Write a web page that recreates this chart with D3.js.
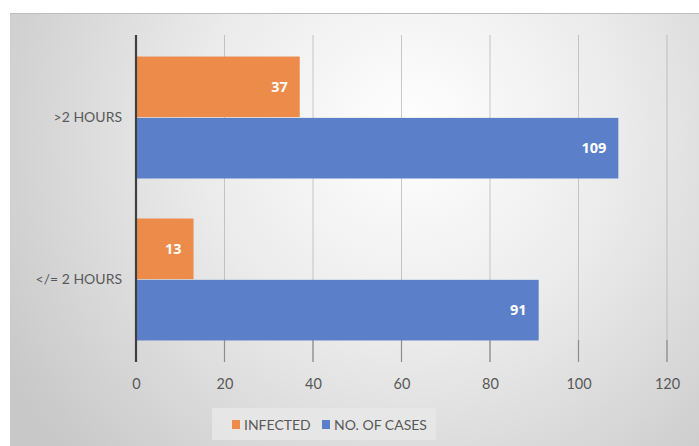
<!DOCTYPE html>
<html>
<head>
<meta charset="utf-8">
<script src="https://cdn.jsdelivr.net/npm/d3@7"></script>
<style>
  html, body { margin: 0; padding: 0; background: #ffffff; }
  svg { display: block; font-family: Lato, "Open Sans", "Liberation Sans", sans-serif; }
</style>
</head>
<body>
<svg id="chart" width="699" height="446"></svg>
<script>
// Duration groups (top to bottom) and the two series drawn per group
const categories = [">2 HOURS", "</= 2 HOURS"];
const seriesNames = ["INFECTED", "NO. OF CASES"];
const infected = [37, 13];
const cases = [109, 91];
const xTicks = [0, 20, 40, 60, 80, 100, 120];
const seriesColors = ["#ED8B4A", "#5B80C9"];

const svg = d3.select("#chart");
const W = 699, H = 446;
const margin = { left: 136, right: 32, top: 35, bottom: 84 };

// Card background with soft radial shading
const defs = svg.append("defs");
const grad = defs.append("radialGradient")
  .attr("id", "bg").attr("gradientUnits", "userSpaceOnUse")
  .attr("cx", 410).attr("cy", 130).attr("r", 470);
grad.append("stop").attr("offset", "0%").attr("stop-color", "#ffffff");
grad.append("stop").attr("offset", "45%").attr("stop-color", "#ebebeb");
grad.append("stop").attr("offset", "100%").attr("stop-color", "#c8c8c8");

svg.append("rect").attr("x", 10).attr("y", 13).attr("width", W - 10).attr("height", H - 13)
  .attr("fill", "url(#bg)");
svg.append("line").attr("x1", 10).attr("x2", W).attr("y1", 13.5).attr("y2", 13.5)
  .attr("stroke", "#bdbdbd").attr("stroke-width", 1);

const x = d3.scaleLinear().domain([0, 120]).range([margin.left, W - margin.right]);
const y = d3.scaleBand().domain(categories).range([margin.top, H - margin.bottom])
  .paddingInner(0.247).paddingOuter(0.133);
const ySub = d3.scaleBand().domain(seriesNames).range([0, y.bandwidth()]).paddingInner(0.012);

const plotBottom = H - margin.bottom;

// Vertical gridlines
svg.append("g").selectAll("line").data(xTicks.filter(d => d > 0)).join("line")
  .attr("x1", d => x(d)).attr("x2", d => x(d))
  .attr("y1", margin.top).attr("y2", plotBottom)
  .attr("stroke", "#a6a6a6").attr("stroke-opacity", 0.6).attr("stroke-width", 1);

// Bottom axis: tick marks and labels, no domain line
const xAxis = svg.append("g").attr("transform", `translate(0,${plotBottom})`)
  .call(d3.axisBottom(x).tickValues(xTicks).tickSize(0).tickPadding(17));
xAxis.select(".domain").remove();
xAxis.selectAll("text").attr("fill", "#595959").attr("font-size", 14.5)
  .attr("font-family", "Lato, 'Open Sans', sans-serif");
svg.append("g").selectAll("line").data(xTicks.filter(d => d > 0)).join("line")
  .attr("x1", d => x(d)).attr("x2", d => x(d))
  .attr("y1", plotBottom - 22).attr("y2", plotBottom)
  .attr("stroke", "#8c8c8c").attr("stroke-width", 1.2);

// Bars
const rows = categories.map((c, i) => ({ cat: c, vals: [infected[i], cases[i]] }));
const groups = svg.append("g").selectAll("g").data(rows).join("g")
  .attr("transform", d => `translate(0,${y(d.cat)})`);

groups.selectAll("rect").data(d => d.vals.map((v, j) => ({ v, s: seriesNames[j], j })))
  .join("rect")
  .attr("x", x(0)).attr("y", d => ySub(d.s))
  .attr("width", d => x(d.v) - x(0)).attr("height", ySub.bandwidth())
  .attr("fill", d => seriesColors[d.j]);

groups.selectAll("text.val").data(d => d.vals.map((v, j) => ({ v, s: seriesNames[j] })))
  .join("text").attr("class", "val")
  .attr("x", d => x(d.v) - 12).attr("y", d => ySub(d.s) + ySub.bandwidth() / 2)
  .attr("dy", "0.35em").attr("text-anchor", "end")
  .attr("fill", "#ffffff").attr("font-weight", "bold").attr("font-size", 14.5)
  .attr("font-family", "'Open Sans', Lato, sans-serif")
  .text(d => d.v);

// Category axis line and labels
svg.append("line").attr("x1", x(0)).attr("x2", x(0))
  .attr("y1", margin.top).attr("y2", plotBottom)
  .attr("stroke", "#404040").attr("stroke-width", 2.2);
const yAxis = svg.append("g").attr("transform", `translate(${x(0)},0)`)
  .call(d3.axisLeft(y).tickSize(0).tickPadding(14));
yAxis.select(".domain").remove();
yAxis.selectAll("text").attr("fill", "#595959").attr("font-size", 14)
  .attr("font-family", "Lato, 'Open Sans', sans-serif");

// Legend
const legend = svg.append("g");
legend.append("rect").attr("x", 212).attr("y", 408).attr("width", 224).attr("height", 32)
  .attr("fill", "#e8e8e8").attr("fill-opacity", 0.85);
const legendItems = [{ name: seriesNames[0], x: 232 }, { name: seriesNames[1], x: 322 }];
legendItems.forEach((it, i) => {
  legend.append("rect").attr("x", it.x).attr("y", 420).attr("width", 8).attr("height", 9)
    .attr("fill", seriesColors[i]);
  legend.append("text").attr("x", it.x + 12).attr("y", 425).attr("dy", "0.35em")
    .attr("fill", "#595959").attr("font-size", 14).text(it.name);
});
</script>
</body>
</html>
